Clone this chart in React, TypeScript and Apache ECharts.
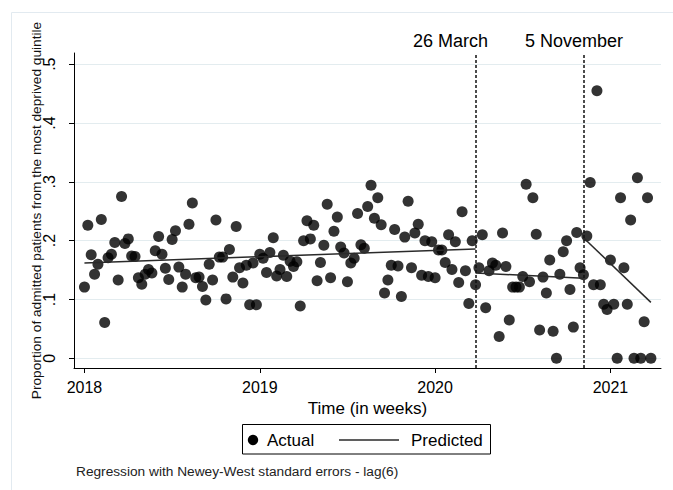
import React, { useEffect, useRef } from 'react';
import * as echarts from 'echarts';

// Weekly proportions (week index 0 = 2018w1, 52 weeks per year)
const weeklyActual: number[] = [
  0.121, 0.226, 0.176, 0.143, 0.160, 0.236, 0.061, 0.171, 0.177, 0.197,
  0.133, 0.275, 0.195, 0.203, 0.174, 0.173, 0.137, 0.126, 0.143, 0.151,
  0.145, 0.183, 0.207, 0.177, 0.153, 0.134, 0.202, 0.217, 0.155, 0.121,
  0.143, 0.228, 0.264, 0.137, 0.138, 0.122, 0.099, 0.160, 0.133, 0.235,
  0.172, 0.172, 0.101, 0.185, 0.138, 0.224, 0.154, 0.128, 0.158, 0.091,
  0.162, 0.091, 0.177, 0.170, 0.146, 0.180, 0.205, 0.140, 0.151, 0.175,
  0.139, 0.165, 0.156, 0.164, 0.089, 0.200, 0.234, 0.203, 0.226, 0.132,
  0.163, 0.192, 0.262, 0.137, 0.216, 0.240, 0.189, 0.179, 0.130, 0.162,
  0.170, 0.246, 0.193, 0.187, 0.258, 0.294, 0.238, 0.273, 0.227, 0.111,
  0.133, 0.158, 0.219, 0.157, 0.105, 0.206, 0.267, 0.154, 0.213, 0.228,
  0.141, 0.200, 0.139, 0.198, 0.137, 0.184, 0.184, 0.163, 0.210, 0.151,
  0.198, 0.129, 0.249, 0.149, 0.093, 0.200, 0.125, 0.154, 0.210, 0.086,
  0.149, 0.162, 0.158, 0.037, 0.213, 0.156, 0.065, 0.121, 0.121, 0.121,
  0.139, 0.296, 0.130, 0.273, 0.211, 0.048, 0.138, 0.111, 0.167, 0.046,
  0.000, 0.143, 0.181, 0.200, 0.117, 0.053, 0.214, 0.154, 0.142, 0.208,
  0.299, 0.125, 0.455, 0.125, 0.092, 0.083, 0.167, 0.092, 0.000, 0.273,
  0.154, 0.092, 0.235, 0.000, 0.307, 0.000, 0.062, 0.273, 0.000,
];

// Predicted (segmented regression) endpoints: [week, value]
const predictedPre: number[][] = [[0, 0.162], [116, 0.186]];
const predictedLockdown: number[][] = [[116, 0.145], [148, 0.136]];
const predictedSecond: number[][] = [[148, 0.205], [168, 0.095]];

const eventWeeks = [116, 148];
const eventLabels = ['26 March', '5 November'];

const xTickWeeks = [0, 52, 104, 156];
const xTickLabels = ['2018', '2019', '2020', '2021'];
const yTickValues = [0, 0.1, 0.2, 0.3, 0.4, 0.5];
const yTickLabels = ['0', '.1', '.2', '.3', '.4', '.5'];

const FONT = '"Liberation Sans", Arial, sans-serif';
const eventLabelOffsets = [[-25, 0], [-9.5, 0]];

export default function App() {
  const ref = useRef<HTMLDivElement>(null);

  useEffect(() => {
    document.body.style.margin = '0';
    if (!ref.current) return;
    const chart = echarts.init(ref.current, undefined, { renderer: 'svg' });

    const predictedStyle = { color: '#2a2a2a', width: 1.5 };
    const predictedSeries = [predictedPre, predictedLockdown, predictedSecond].map((seg) => ({
      type: 'line',
      name: 'Predicted',
      data: seg,
      symbol: 'none',
      showSymbol: false,
      lineStyle: predictedStyle,
      itemStyle: { color: '#2a2a2a' },
      z: 3,
      silent: true,
    }));

    chart.setOption({
      animation: false,
      backgroundColor: '#fff',
      textStyle: { fontFamily: FONT },
      grid: { left: 74, right: 12, top: 53, bottom: 122, containLabel: false },
      xAxis: {
        type: 'value',
        min: -3.1,
        max: 171,
        axisLine: { show: true, onZero: false, lineStyle: { color: '#000', width: 1 } },
        axisTick: { show: true, length: 5, customValues: xTickWeeks, lineStyle: { color: '#000' } },
        axisLabel: {
          customValues: xTickWeeks,
          formatter: (v: number) => xTickLabels[xTickWeeks.indexOf(v)] ?? '',
          fontSize: 16,
          color: '#000',
          margin: 11,
          fontFamily: FONT,
        },
        splitLine: { show: false },
        name: 'Time (in weeks)',
        nameLocation: 'middle',
        nameGap: 29,
        nameTextStyle: { fontSize: 17, color: '#000', fontFamily: FONT },
      },
      yAxis: {
        type: 'value',
        min: -0.0165,
        max: 0.519,
        axisLine: { show: true, onZero: false, lineStyle: { color: '#000', width: 1 } },
        axisTick: { show: true, length: 5, customValues: yTickValues, lineStyle: { color: '#000' } },
        axisLabel: {
          customValues: yTickValues,
          formatter: (v: number) => yTickLabels[Math.round(v * 10)] ?? '',
          rotate: 90,
          fontSize: 16,
          color: '#000',
          margin: 17,
          fontFamily: FONT,
        },
        splitLine: { show: true, lineStyle: { color: '#e3ecef', width: 1 } },
        name: 'Proportion of admitted patients from the most deprived quintile',
        nameLocation: 'middle',
        nameGap: 31,
        nameMoveOverlap: false,
        nameTextStyle: { fontSize: 13.7, color: '#111', fontFamily: FONT },
      },
      series: [
        {
          type: 'scatter',
          name: 'Actual',
          data: weeklyActual.map((v, i) => [i, v]),
          symbol: 'circle',
          symbolSize: 11,
          itemStyle: { color: '#000' },
          z: 2,
          silent: true,
          markLine: {
            silent: true,
            symbol: ['none', 'none'],
            lineStyle: { type: [3, 2], color: '#111', width: 1.5 },
            emphasis: { disabled: true },
            label: {
              show: true,
              position: 'end',
              formatter: '{b}',
              fontSize: 18,
              color: '#000',
              distance: 3,
              fontFamily: FONT,
            },
            data: eventWeeks.map((w, i) => ({
              xAxis: w,
              name: eventLabels[i],
              label: { offset: eventLabelOffsets[i] },
            })),
          },
        },
        ...predictedSeries,
      ],
      graphic: [
        {
          type: 'rect',
          silent: true,
          shape: { x: 11.5, y: 12.5, width: 700, height: 500 },
          style: { fill: 'none', stroke: '#e2eaf0', lineWidth: 1 },
          z: -10,
        },
        {
          type: 'group',
          silent: true,
          children: [
            {
              type: 'rect',
              shape: { x: 242.5, y: 424.5, width: 248, height: 29.5 },
              style: { fill: '#fff', stroke: '#000', lineWidth: 1 },
            },
            {
              type: 'circle',
              shape: { cx: 253, cy: 440, r: 5.2 },
              style: { fill: '#000' },
            },
            {
              type: 'text',
              x: 267,
              y: 440,
              style: { text: 'Actual', fontSize: 17, fill: '#000', verticalAlign: 'middle', fontFamily: FONT },
            },
            {
              type: 'line',
              shape: { x1: 339, y1: 440, x2: 399, y2: 440 },
              style: { stroke: '#2a2a2a', lineWidth: 1.5 },
            },
            {
              type: 'text',
              x: 411,
              y: 440,
              style: { text: 'Predicted', fontSize: 17, fill: '#000', verticalAlign: 'middle', fontFamily: FONT },
            },
          ],
        },
        {
          type: 'text',
          silent: true,
          x: 76,
          y: 471,
          style: {
            text: 'Regression with Newey-West standard errors - lag(6)',
            fontSize: 13.7,
            fill: '#222',
            verticalAlign: 'middle',
            fontFamily: FONT,
          },
        },
      ],
    });

    return () => chart.dispose();
  }, []);

  return <div ref={ref} style={{ width: 673, height: 490 }} />;
}
